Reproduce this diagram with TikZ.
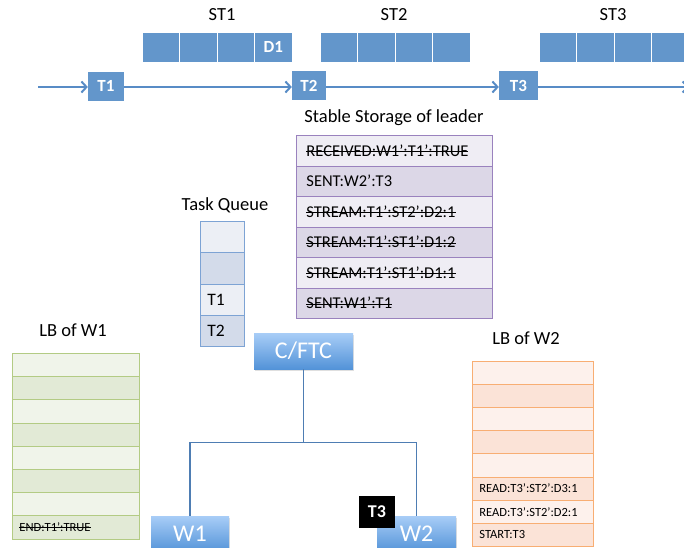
\documentclass[tikz,border=0pt]{standalone}
\usepackage{fontspec}
\setmainfont{Carlito}
\newsavebox\strkbox
\newcommand{\strk}[1]{\sbox\strkbox{#1}\rlap{\usebox\strkbox}\rule[0.27em]{\wd\strkbox}{1pt}}
\usetikzlibrary{arrows.meta,shadows}
\definecolor{blockblue}{RGB}{99,150,203}
\definecolor{arrowblue}{RGB}{88,140,198}
\definecolor{connblue}{RGB}{78,125,179}
\definecolor{sspurple}{RGB}{154,130,190}
\definecolor{sslight}{RGB}{239,237,244}
\definecolor{ssdark}{RGB}{220,215,231}
\definecolor{tqblue}{RGB}{125,163,212}
\definecolor{tqlight}{RGB}{236,239,245}
\definecolor{tqdark}{RGB}{211,219,234}
\definecolor{lbgreen}{RGB}{179,203,132}
\definecolor{lbglight}{RGB}{240,244,234}
\definecolor{lbgdark}{RGB}{226,234,214}
\definecolor{lborange}{RGB}{248,174,115}
\definecolor{lbolight}{RGB}{253,241,236}
\definecolor{lbodark}{RGB}{251,227,215}
\definecolor{gradtop}{RGB}{168,205,247}
\definecolor{gradbot}{RGB}{83,147,216}
\begin{document}
\begin{tikzpicture}[x=1pt,y=-1pt,
  cell/.style={draw=white, line width=0.8pt, fill=blockblue, minimum width=37.5pt, minimum height=30pt, inner sep=0pt, text=white, font=\bfseries\fontsize{17}{17}\selectfont},
  tbox/.style={fill=blockblue, minimum height=29pt, inner sep=0pt, text=white, font=\bfseries\fontsize{17}{17}\selectfont},
  lbl/.style={font=\fontsize{18.5}{19}\selectfont, text height=0.7em, text depth=0.2em, inner sep=0pt},
  tline/.style={draw=arrowblue, line width=2pt, -{Straight Barb[length=5pt,width=11pt]}},
  row/.style={anchor=north west, align=left, inner ysep=0pt},
  ssrow/.style={row, draw=sspurple, line width=0.9pt, minimum width=196pt, text width=176pt, inner xsep=10pt, minimum height=30.5pt, font=\fontsize{16.5}{17}\selectfont},
  ssl/.style={ssrow, fill=sslight}, ssd/.style={ssrow, fill=ssdark},
  tqrow/.style={row, draw=tqblue, line width=0.9pt, minimum width=44pt, text width=30pt, inner xsep=7pt, minimum height=31.25pt, font=\fontsize{17.5}{18}\selectfont},
  tql/.style={tqrow, fill=tqlight}, tqd/.style={tqrow, fill=tqdark},
  lbrow/.style={row, line width=0.9pt, minimum height=23.2pt, inner xsep=7pt, font=\fontsize{12.5}{13}\selectfont},
  gl/.style={lbrow, draw=lbgreen, fill=lbglight, minimum width=127pt, text width=113pt},
  gd/.style={lbrow, draw=lbgreen, fill=lbgdark, minimum width=127pt, text width=113pt},
  ol/.style={lbrow, draw=lborange, fill=lbolight, minimum width=121pt, text width=107pt},
  od/.style={lbrow, draw=lborange, fill=lbodark, minimum width=121pt, text width=107pt},
  gbox/.style={top color=gradtop, bottom color=gradbot, draw=none, text=white, inner sep=0pt, font=\fontsize{24}{24}\selectfont, drop shadow={opacity=0.25, shadow xshift=1pt, shadow yshift=-1.5pt}},
  conn/.style={draw=connblue, line width=1.3pt}
]
\useasboundingbox (0,0) rectangle (684,547);

% stream blocks
\foreach \k in {0,1,2,3} {
  \node[cell] (a\k) at ({160.75+37.5*\k},47) {};
  \node[cell] (b\k) at ({338.75+37.5*\k},47) {};
  \node[cell] (c\k) at ({557.75+37.5*\k},47) {};
}
\node[cell] (d1) at (273.25,47) {D1};
\node[lbl] (st1) at (222,18) {ST1};
\node[lbl] (st2) at (394,18) {ST2};
\node[lbl] (st3) at (613,18) {ST3};

% timeline
\coordinate (tstart) at (38,87);
\coordinate (tend) at (689,87);
\node[tbox, minimum width=36pt] (t1) at (106,86) {T1};
\node[tbox, minimum width=34pt] (t2) at (309,85.5) {T2};
\node[tbox, minimum width=39pt] (t3) at (518.5,85.5) {T3};
\draw[tline] (tstart) -- (t1.west |- tstart);
\draw[tline] (t1.east |- tstart) -- (t2.west |- tstart);
\draw[tline] (t2.east |- tstart) -- (t3.west |- tstart);
\draw[tline] (t3.east |- tstart) -- (tend);

% stable storage
\node[lbl] (sslabel) at (394,120) {Stable Storage of leader};
\foreach \i/\s/\t in {1/ssl/{\strk{RECEIVED:W1’:T1’:TRUE}},2/ssd/{SENT:W2’:T3},3/ssl/{\strk{STREAM:T1’:ST2’:D2:1}},4/ssd/{\strk{STREAM:T1’:ST1’:D1:2}},5/ssl/{\strk{STREAM:T1’:ST1’:D1:1}},6/ssd/{\strk{SENT:W1’:T1}}}
  \node[\s] (ss\i) at (296,{135+(\i-1)*30.5}) {\t};

% task queue
\node[lbl] (tqlabel) at (225,208) {Task Queue};
\foreach \i/\s/\t in {1/tql/{},2/tqd/{},3/tql/{T1},4/tqd/{T2}}
  \node[\s] (tq\i) at (200,{221+(\i-1)*31.25}) {\t};

% LB of W1
\node[lbl] (lb1label) at (73,334) {LB of W1};
\foreach \i/\s/\t in {1/gl/{},2/gd/{},3/gl/{},4/gd/{},5/gl/{},6/gd/{},7/gl/{},8/gd/{\strk{END:T1’:TRUE}}}
  \node[\s] (lbw1\i) at (12,{353+(\i-1)*23.2}) {\t};

% LB of W2
\node[lbl] (lb2label) at (526,342) {LB of W2};
\foreach \i/\s/\t in {1/ol/{},2/od/{},3/ol/{},4/od/{},5/ol/{},6/od/{READ:T3’:ST2’:D3:1},7/ol/{READ:T3’:ST2’:D2:1},8/od/{START:T3}}
  \node[\s] (lbw2\i) at (472,{361+(\i-1)*23.1}) {\t};

% C/FTC and workers
\node[gbox, minimum width=99pt, minimum height=36pt] (cftc) at (303.5,351) {C/FTC};
\node[gbox, minimum width=78pt, minimum height=36pt] (w1) at (190,534) {W1};
\node[gbox, minimum width=79pt, minimum height=36pt] (w2) at (416.5,534) {W2};
\path (cftc.south) ++(0,73) coordinate (j);
\draw[conn] (cftc.south) -- (j) -| (w1.north);
\draw[conn] (j) -| (w2.north);
\node[fill=black, text=white, minimum width=36pt, minimum height=32pt, inner sep=0pt, font=\bfseries\fontsize{18}{18}\selectfont] (t3b) at (377,512) {T3};
\end{tikzpicture}
\end{document}
